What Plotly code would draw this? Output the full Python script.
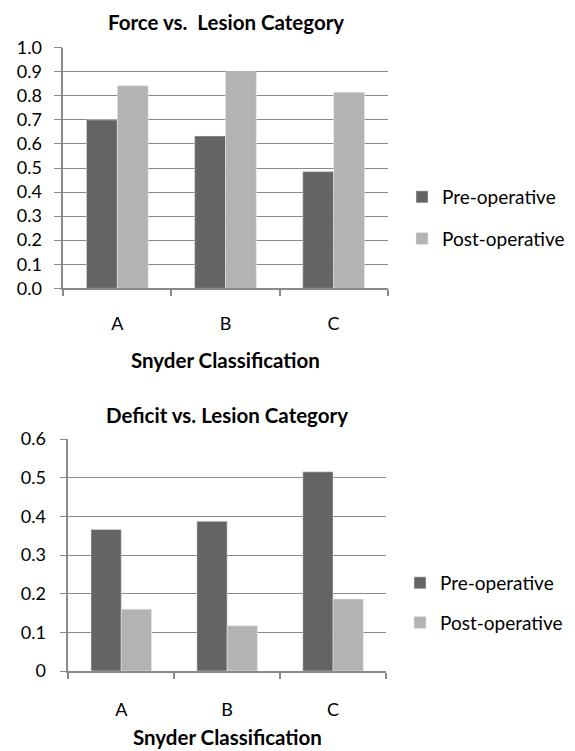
import plotly.graph_objects as go

categories = ["A", "B", "C"]
force_pre = [0.70, 0.633, 0.485]
force_post = [0.842, 0.90, 0.815]
deficit_pre = [0.366, 0.387, 0.515]
deficit_post = [0.160, 0.117, 0.186]
force_ticks = [0.0, 0.1, 0.2, 0.3, 0.4, 0.5, 0.6, 0.7, 0.8, 0.9, 1.0]
deficit_ticks = [0, 0.1, 0.2, 0.3, 0.4, 0.5, 0.6]

PRE = "#646464"
POST = "#b3b3b3"
GRID = "#8a8a8a"
FONT = "Lato"
W, H = 575, 751

fig = go.Figure()
fig.add_trace(go.Bar(x=categories, y=force_pre, name="Pre-operative", marker_color=PRE,
                     xaxis="x", yaxis="y", legend="legend", legendgroup="a"))
fig.add_trace(go.Bar(x=categories, y=force_post, name="Post-operative", marker_color=POST,
                     xaxis="x", yaxis="y", legend="legend", legendgroup="b"))
fig.add_trace(go.Bar(x=categories, y=deficit_pre, name="Pre-operative", marker_color=PRE,
                     xaxis="x2", yaxis="y2", legend="legend2", legendgroup="c"))
fig.add_trace(go.Bar(x=categories, y=deficit_post, name="Post-operative", marker_color=POST,
                     xaxis="x2", yaxis="y2", legend="legend2", legendgroup="d"))

def py(p):
    return 1 - p / H

axis_common = dict(showline=True, linecolor=GRID, linewidth=1.5, mirror=False, automargin=False,
                   tickfont=dict(family=FONT, size=18, color="#000"), fixedrange=True)

fig.update_layout(
    width=W, height=H,
    margin=dict(l=0, r=0, t=0, b=0, pad=0, autoexpand=False),
    paper_bgcolor="white", plot_bgcolor="white",
    barmode="group", bargap=0.4286, bargroupgap=0,
    font=dict(family=FONT, color="#000"),
    xaxis=dict(domain=[63.3 / W, 387.7 / W], anchor="y", tickson="boundaries",
               ticks="outside", ticklen=6, tickcolor=GRID, tickwidth=1.5,
               ticklabelstandoff=18, showgrid=False, **axis_common),
    yaxis=dict(domain=[py(288.3), py(47.7)], anchor="x", range=[0, 1.0],
               tickvals=force_ticks, ticktext=[f"{v:.1f}" for v in force_ticks],
               ticks="outside", ticklen=8, tickcolor=GRID, tickwidth=1.2,
               ticklabelstandoff=8,
               showgrid=True, gridcolor=GRID, gridwidth=1.2, zeroline=False, **axis_common),
    xaxis2=dict(domain=[68.3 / W, 386 / W], anchor="y2", tickson="boundaries",
                ticks="outside", ticklen=6, tickcolor=GRID, tickwidth=1.5,
                ticklabelstandoff=22, showgrid=False, **axis_common),
    yaxis2=dict(domain=[py(671), py(439)], anchor="x2", range=[0, 0.6],
                tickvals=deficit_ticks, ticktext=[f"{v:g}" for v in deficit_ticks],
                ticks="outside", ticklen=7, tickcolor=GRID, tickwidth=1.2,
                ticklabelstandoff=10,
                showgrid=True, gridcolor=GRID, gridwidth=1.2, zeroline=False, **axis_common),
    legend=dict(x=402 / W, y=py(178), xanchor="left", yanchor="top",
                font=dict(family=FONT, size=19, color="#000"), tracegroupgap=14,
                bgcolor="rgba(0,0,0,0)"),
    legend2=dict(x=400 / W, y=py(564), xanchor="left", yanchor="top",
                 font=dict(family=FONT, size=19, color="#000"), tracegroupgap=12,
                 bgcolor="rgba(0,0,0,0)"),
    showlegend=True,
    annotations=[
        dict(text="<b>Force vs.  Lesion Category</b>", x=225.5 / W, y=py(21.7), xref="paper",
             yref="paper", showarrow=False, font=dict(family=FONT, size=20.5), yanchor="middle"),
        dict(text="<b>Snyder Classification</b>", x=225.5 / W, y=py(360), xref="paper",
             yref="paper", showarrow=False, font=dict(family=FONT, size=20.5), yanchor="middle"),
        dict(text="<b>Deficit vs. Lesion Category</b>", x=227 / W, y=py(415), xref="paper",
             yref="paper", showarrow=False, font=dict(family=FONT, size=20.5), yanchor="middle"),
        dict(text="<b>Snyder Classification</b>", x=227 / W, y=0, xref="paper",
             yref="paper", showarrow=False, font=dict(family=FONT, size=20.5), yanchor="bottom"),
    ],
)

fig.write_html(
    "out.html",
    config={"displayModeBar": False},
    post_script="document.body.style.margin='0';document.body.style.overflow='hidden';",
)
